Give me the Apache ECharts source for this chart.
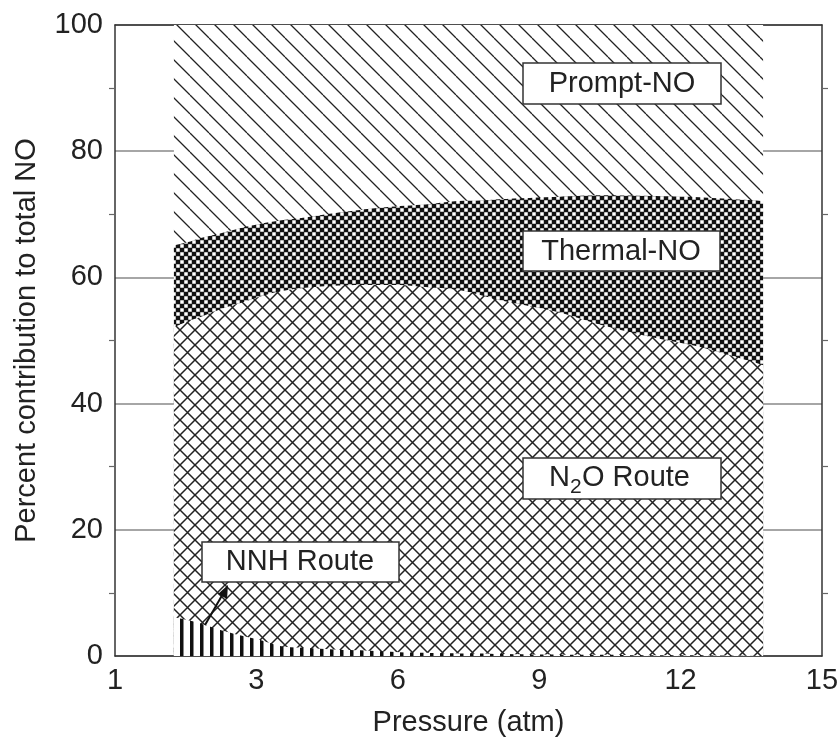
<!DOCTYPE html>
<html><head><meta charset="utf-8">
<script src="https://cdn.jsdelivr.net/npm/echarts@6/dist/echarts.min.js"></script>
<style>html,body{margin:0;padding:0;background:#fff}#c{width:840px;height:739px}</style>
</head><body><div id="c"></div>
<script>
// Pressure positions (axis units; first axis tick is labelled "1")
const pressure = [1.25, 1.6, 1.8, 2.25, 2.65, 3.1, 3.5, 3.95, 4.75, 5.2, 6.05, 6.5, 7.3, 7.75, 8.15, 9.45, 10.3, 11.35, 12.4, 13.75];
// Percent contribution of each route
const nnhRoute   = [6.2, 5.6, 5.2, 4.1, 3.3, 2.5, 1.6, 1.3, 1.0, 0.9, 0.6, 0.5, 0.4, 0.4, 0.3, 0.2, 0.2, 0.1, 0.1, 0.1];
const n2oRoute   = [45.9, 47.6, 48.5, 50.9, 52.6, 54.5, 56.2, 57.0, 57.7, 57.9, 58.2, 58.0, 57.6, 56.8, 56.1, 54.2, 52.3, 50.5, 48.9, 46.0];
const thermalNO  = [13.0, 12.5, 12.5, 12.0, 11.9, 11.5, 11.2, 11.1, 11.6, 11.9, 12.5, 13.0, 14.1, 15.0, 16.0, 18.4, 20.5, 22.3, 23.7, 26.0];
const promptNO   = [34.9, 34.3, 33.8, 33.0, 32.2, 31.5, 31.0, 30.6, 29.7, 29.3, 28.7, 28.5, 27.9, 27.8, 27.6, 27.2, 27.0, 27.1, 27.3, 27.9];
const xTickLabels = {0: '1', 3: '3', 6: '6', 9: '9', 12: '12', 15: '15'};
const yTicks = [0, 20, 40, 60, 80, 100];

const FONT = '"Liberation Sans", Arial, Helvetica, sans-serif';
const INK = '#222';

function pattern(kind) {
  const c = document.createElement('canvas');
  let s = 10;
  if (kind === 'diag') s = 19;
  if (kind === 'cross') s = 15;
  if (kind === 'check') s = 8;
  if (kind === 'vert') s = 10;
  c.width = s; c.height = s;
  const g = c.getContext('2d');
  g.fillStyle = '#fff'; g.fillRect(0, 0, s, s);
  g.strokeStyle = INK; g.fillStyle = INK;
  if (kind === 'diag' || kind === 'cross') {
    g.lineWidth = kind === 'diag' ? 1.3 : 1.5;
    g.beginPath();
    for (const k of [-s, 0, s]) { g.moveTo(0, k); g.lineTo(s, s + k); }
    if (kind === 'cross') {
      for (const k of [0, s, 2 * s]) { g.moveTo(0, k); g.lineTo(s, k - s); }
    }
    g.stroke();
  } else if (kind === 'check') {
    g.fillStyle = '#111'; g.fillRect(0, 0, s, s);
    g.fillStyle = '#fff';
    g.fillRect(0.25, 0.25, 3.5, 3.5);
    g.fillRect(4.25, 4.25, 3.5, 3.5);
  } else if (kind === 'vert') {
    g.fillStyle = '#111';
    g.fillRect(0, 0, 3.5, s);
  }
  return { image: c, repeat: 'repeat' };
}

// cumulative tops (bottom -> top order)
const layers = [nnhRoute, n2oRoute, thermalNO, promptNO];
const tops = [];
let run = pressure.map(() => 0);
for (const l of layers) { run = run.map((v, i) => v + l[i]); tops.push(run.slice()); }

function areaSeries(name, topVals, kind, z) {
  return {
    name, type: 'line', data: pressure.map((p, i) => [p, topVals[i]]),
    smooth: 0.3, symbol: 'none', z,
    lineStyle: { width: 0 },
    areaStyle: { color: pattern(kind), opacity: 1, origin: 'start' },
    silent: true
  };
}

function box(x, y, w, h) {
  return { type: 'rect', z: 100, shape: { x, y, width: w, height: h }, style: { fill: '#fff', stroke: '#333', lineWidth: 1.5 } };
}
function txt(t, x, y, size, align) {
  return { type: 'text', z: 101, style: { text: t, x, y, align: align || 'center', verticalAlign: 'middle', font: size + 'px ' + FONT, fill: INK } };
}

const chart = echarts.init(document.getElementById('c'), null, { renderer: 'canvas' });
const axisLineStyle = { color: '#333', width: 1.5 };
chart.setOption({
  animation: false,
  backgroundColor: '#fff',
  grid: { left: 115, right: 18, top: 25, bottom: 83, containLabel: false, outerBoundsMode: 'none' },
  xAxis: [{
    type: 'value', min: 0, max: 15, interval: 3, position: 'bottom',
    name: 'Pressure (atm)', nameLocation: 'middle', nameGap: 52,
    nameTextStyle: { fontFamily: FONT, fontSize: 29, color: INK },
    axisLine: { show: true, onZero: false, lineStyle: axisLineStyle },
    axisTick: { show: false },
    axisLabel: { fontFamily: FONT, fontSize: 29, color: INK, margin: 10,
      formatter: v => xTickLabels[v] !== undefined ? xTickLabels[v] : '' },
    splitLine: { show: false }
  }, {
    type: 'value', min: 0, max: 15, position: 'top',
    axisLine: { show: true, onZero: false, lineStyle: axisLineStyle },
    axisTick: { show: false }, axisLabel: { show: false }, splitLine: { show: false }
  }],
  yAxis: [{
    type: 'value', min: 0, max: 100, interval: 20, position: 'left',
    name: 'Percent contribution to total NO', nameLocation: 'middle', nameGap: 74,
    nameTextStyle: { fontFamily: FONT, fontSize: 29, color: INK },
    axisLine: { show: true, onZero: false, lineStyle: axisLineStyle },
    axisTick: { show: false },
    minorTick: { show: true, splitNumber: 2, length: 6, lineStyle: { color: '#666', width: 1.2 } },
    axisLabel: { fontFamily: FONT, fontSize: 29, color: INK, margin: 12,
      formatter: v => yTicks.includes(v) ? String(v) : '' },
    splitLine: { show: true, lineStyle: { color: '#888', width: 1.5 } }
  }, {
    type: 'value', min: 0, max: 100, interval: 20, position: 'right',
    axisLine: { show: true, onZero: false, lineStyle: axisLineStyle },
    axisTick: { show: false },
    minorTick: { show: true, splitNumber: 2, length: 6, lineStyle: { color: '#666', width: 1.2 } },
    axisLabel: { show: false }, splitLine: { show: false }
  }],
  series: [
    areaSeries('Prompt-NO', tops[3], 'diag', 2),
    areaSeries('Thermal-NO', tops[2], 'check', 3),
    areaSeries('N2O Route', tops[1], 'cross', 4),
    areaSeries('NNH Route', tops[0], 'vert', 5)
  ],
  graphic: [
    box(523, 63, 198, 41), txt('Prompt-NO', 622, 84, 29),
    box(523, 231, 197, 40), txt('Thermal-NO', 621, 252, 29),
    box(523, 458, 198, 41),
    txt('N', 549, 478, 29, 'left'),
    txt('2', 570, 487, 21, 'left'),
    txt('O Route', 582, 478, 29, 'left'),
    box(202, 542, 197, 40), txt('NNH Route', 300, 562, 29),
    {
      type: 'line', z: 100,
      shape: { x1: 205, y1: 625, x2: 224, y2: 592 },
      style: { stroke: '#111', lineWidth: 2 }
    },
    {
      type: 'polygon', z: 100,
      shape: { points: [[228, 585], [218, 594], [227, 599]] },
      style: { fill: '#111' }
    }
  ]
});
</script>
</body></html>
